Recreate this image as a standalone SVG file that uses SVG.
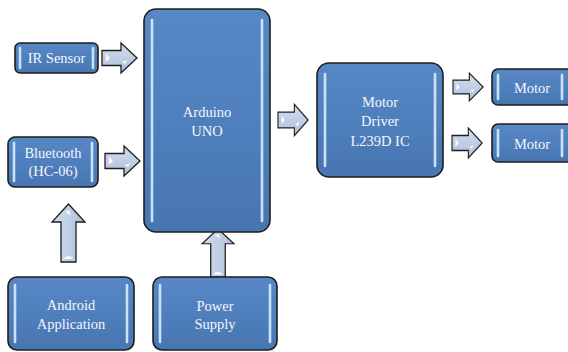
<svg xmlns="http://www.w3.org/2000/svg" width="568" height="352" viewBox="0 0 568 352">
<defs>
<linearGradient id="boxg" x1="0" y1="0" x2="0" y2="1">
<stop offset="0" stop-color="#5787c4"/>
<stop offset="0.5" stop-color="#4f80bd"/>
<stop offset="1" stop-color="#4775b0"/>
</linearGradient>
<linearGradient id="arrg" x1="0" y1="0" x2="0" y2="1">
<stop offset="0" stop-color="#d3deee"/>
<stop offset="1" stop-color="#aebfdc"/>
</linearGradient>
<linearGradient id="arrgv" x1="0" y1="0" x2="1" y2="0">
<stop offset="0" stop-color="#d3deee"/>
<stop offset="1" stop-color="#aebfdc"/>
</linearGradient>
<path id="rarr" d="M0,-7.5 H19 V-15 L35,0 L19,15 V7.5 H0 Z"/>
<path id="uarr" d="M-7.5,0 V-40 H-16.5 L0,-58 L16.5,-40 H7.5 V0 Z"/>
</defs>
<style>
.box{fill:url(#boxg);stroke:#1e1e1e;stroke-width:1.6}
.hl{stroke:#c9e2fa;stroke-width:2.6;stroke-linecap:round;fill:none}
.lbl{font-family:"Liberation Serif","DejaVu Serif",serif;font-size:14.5px;fill:#f4f6fa;text-anchor:middle}
.ra{fill:url(#arrg);stroke:#1e1e1e;stroke-width:1.3;stroke-linejoin:miter}
.ua{fill:url(#arrgv);stroke:#1e1e1e;stroke-width:1.3;stroke-linejoin:miter}
.sp{fill:#ffffff;opacity:0.9}
</style>

<g id="connectors">
<g transform="translate(102,58)"><use href="#rarr" class="ra"/><path class="sp" d="M4,-4 L8,0 L4,4 Z"/><path class="sp" d="M20,4 L25,2 L23,6 Z"/></g>
<g transform="translate(105,161)"><use href="#rarr" class="ra"/><path class="sp" d="M4,-4 L8,0 L4,4 Z"/><path class="sp" d="M20,4 L25,2 L23,6 Z"/></g>
<g transform="translate(278,120) scale(0.86,1.05)"><use href="#rarr" class="ra"/><path class="sp" d="M4,-4 L8,0 L4,4 Z"/><path class="sp" d="M20,4 L25,2 L23,6 Z"/></g>
<g transform="translate(453,87) scale(0.86,0.93)"><use href="#rarr" class="ra"/><path class="sp" d="M4,-4 L8,0 L4,4 Z"/><path class="sp" d="M20,4 L25,2 L23,6 Z"/></g>
<g transform="translate(452,143) scale(0.86,1)"><use href="#rarr" class="ra"/><path class="sp" d="M4,-4 L8,0 L4,4 Z"/><path class="sp" d="M20,4 L25,2 L23,6 Z"/></g>
<g transform="translate(68.5,262)"><use href="#uarr" class="ua"/><path class="sp" d="M-5,-3 Q0,-9 5,-3 Z"/><path class="sp" d="M-3,-50 L1,-52 L2,-46 Z"/></g>
<g transform="translate(218,277) scale(0.97,0.83)"><use href="#uarr" class="ua"/><path class="sp" d="M-5,-3 Q0,-9 5,-3 Z"/><path class="sp" d="M-3,-50 L1,-52 L2,-46 Z"/></g>
</g>

<g id="ir-sensor">
<rect class="box" x="15" y="43" width="83" height="30" rx="5"/>
<line class="hl" x1="20" y1="48" x2="20" y2="68"/><line class="hl" x1="93" y1="48" x2="93" y2="68"/>
<text class="lbl" x="56.5" y="63">IR Sensor</text>
</g>

<g id="bluetooth">
<rect class="box" x="8" y="137" width="90" height="50" rx="7"/>
<line class="hl" x1="14" y1="143" x2="14" y2="181"/><line class="hl" x1="92" y1="143" x2="92" y2="181"/>
<text class="lbl" x="53" y="158">Bluetooth</text>
<text class="lbl" x="53" y="176">(HC-06)</text>
</g>

<g id="arduino">
<rect class="box" x="144" y="9" width="126" height="223" rx="12"/>
<line class="hl" x1="152" y1="20" x2="152" y2="221"/><line class="hl" x1="262" y1="20" x2="262" y2="221"/>
<text class="lbl" x="207" y="117">Arduino</text>
<text class="lbl" x="207" y="136">UNO</text>
</g>

<g id="motor-driver">
<rect class="box" x="317" y="63" width="126" height="114" rx="12"/>
<line class="hl" x1="325" y1="74" x2="325" y2="166"/><line class="hl" x1="435" y1="74" x2="435" y2="166"/>
<text class="lbl" x="380" y="107">Motor</text>
<text class="lbl" x="380" y="126">Driver</text>
<text class="lbl" x="380" y="146">L239D IC</text>
</g>

<g id="motor-1">
<rect class="box" x="492" y="69" width="82" height="36" rx="6"/>
<line class="hl" x1="498" y1="75" x2="498" y2="99"/><line class="hl" x1="562" y1="75" x2="562" y2="99"/>
<text class="lbl" x="532" y="93">Motor</text>
</g>

<g id="motor-2">
<rect class="box" x="492" y="124" width="82" height="38" rx="6"/>
<line class="hl" x1="498" y1="130" x2="498" y2="156"/><line class="hl" x1="562" y1="130" x2="562" y2="156"/>
<text class="lbl" x="532" y="149">Motor</text>
</g>

<g id="android-app">
<rect class="box" x="8" y="277" width="126" height="73" rx="9"/>
<line class="hl" x1="15" y1="285" x2="15" y2="342"/><line class="hl" x1="127" y1="285" x2="127" y2="342"/>
<text class="lbl" x="71" y="310">Android</text>
<text class="lbl" x="71" y="329">Application</text>
</g>

<g id="power-supply">
<rect class="box" x="153" y="277" width="124" height="73" rx="9"/>
<line class="hl" x1="160" y1="285" x2="160" y2="342"/><line class="hl" x1="270" y1="285" x2="270" y2="342"/>
<text class="lbl" x="215" y="311">Power</text>
<text class="lbl" x="215" y="329">Supply</text>
</g>
</svg>
